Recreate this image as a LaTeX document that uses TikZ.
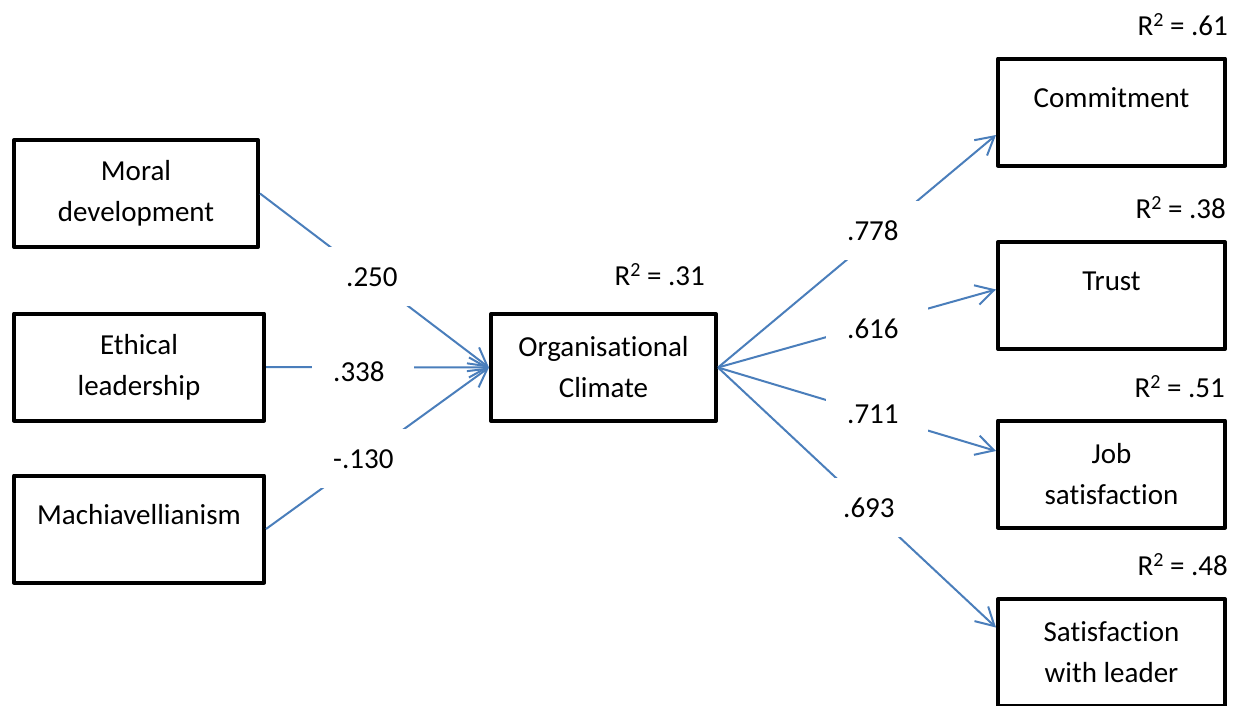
\documentclass[tikz,border=0pt]{standalone}
\usepackage{fontspec}
\setmainfont{Carlito}[Ligatures=NoCommon]
\usetikzlibrary{arrows.meta}
\definecolor{pathblue}{HTML}{4A7EBB}
% R-squared text with a small raised 2
\newcommand\rsqtext[1]{R\raisebox{8.6pt}{\fontsize{20}{20}\selectfont 2} = #1}
\begin{document}
\begin{tikzpicture}[x=1pt,y=-1pt,
  every node/.style={font=\fontsize{29}{41}\selectfont},
  var/.style={draw=black, line width=4pt, line join=round, fill=white,
    align=center, inner sep=0pt, minimum height=107pt},
  oneline/.style={text height=20pt, text depth=30pt},
  effect/.style={draw=pathblue, line width=2pt,
    -{Straight Barb[length=18pt,width=20pt]}},
  coef/.style={fill=white, inner xsep=21pt, inner ysep=0pt, text width=60pt,
    align=left, text height=39pt, text depth=20pt, anchor=base west},
  rsq/.style={anchor=base east, inner sep=0pt}]
  \useasboundingbox (0,0) rectangle (1237,705);

  % predictors
  \node[var, minimum width=244pt] (moral) at (136,193.5) {Moral\\development};
  \node[var, minimum width=250pt] (ethic) at (139,367) {Ethical\\leadership};
  \node[var, minimum width=250pt, oneline] (mach) at (139,529) {Machiavellianism};

  % mediator
  \node[var, minimum width=225pt] (org) at (603.5,367.5) {Organisational\\Climate};

  % outcomes
  \node[var, minimum width=227pt, oneline] (comm) at (1111.5,112) {Commitment};
  \node[var, minimum width=227pt, oneline] (trust) at (1111.5,295.5) {Trust};
  \node[var, minimum width=227pt] (job) at (1111.5,474) {Job\\satisfaction};
  \node[var, minimum width=227pt] (sat) at (1111.5,652.5) {Satisfaction\\with leader};

  % paths
  \draw[effect] (moral.east) -- (org.west);
  \draw[effect] (ethic.east) -- (org.west);
  \draw[effect] (mach.east) -- (org.west);
  \draw[effect] (org.east) -- ([yshift=-23pt]comm.west);
  \draw[effect] (org.east) -- ([yshift=6pt]trust.west);
  \draw[effect] (org.east) -- ([yshift=23pt]job.west);
  \draw[effect] (org.east) -- ([yshift=25pt]sat.west);

  % path coefficients
  \node[coef] (c1) at (325,286) {\mbox{.250}};
  \node[coef] (c2) at (312,381) {\mbox{.338}};
  \node[coef] (c3) at (312,468) {\mbox{-.130}};
  \node[coef] (c4) at (826,240) {\mbox{.778}};
  \node[coef] (c5) at (826,338) {\mbox{.616}};
  \node[coef] (c6) at (826,423) {\mbox{.711}};
  \node[coef] (c7) at (822,517) {\mbox{.693}};

  % explained variance
  \node[rsq] (r1) at (705,285) {\rsqtext{.31}};
  \node[rsq] (r2) at (1228,35) {\rsqtext{.61}};
  \node[rsq] (r3) at (1226,218) {\rsqtext{.38}};
  \node[rsq] (r4) at (1225,397) {\rsqtext{.51}};
  \node[rsq] (r5) at (1228,575) {\rsqtext{.48}};
\end{tikzpicture}
\end{document}
